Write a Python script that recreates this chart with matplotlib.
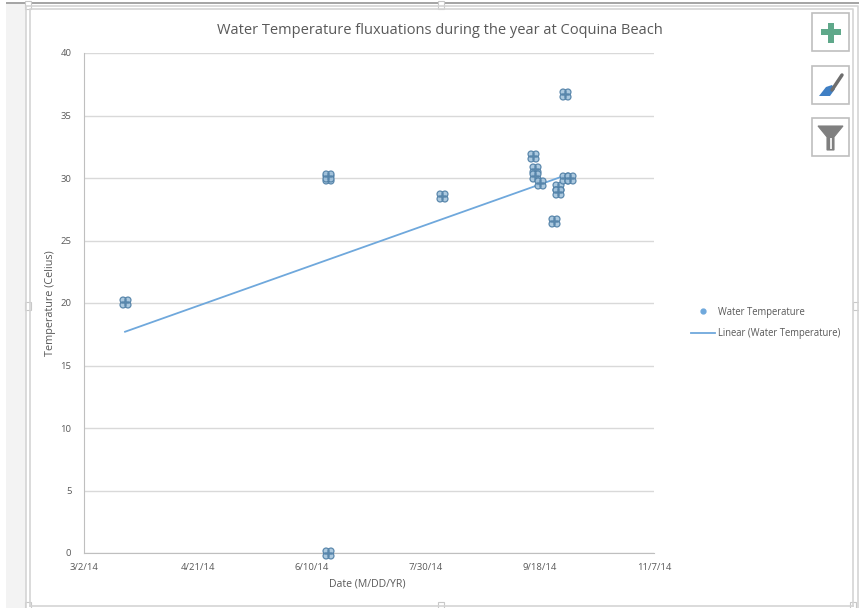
import matplotlib
matplotlib.use("Agg")
import matplotlib.pyplot as plt
import pandas as pd
from matplotlib.lines import Line2D
from matplotlib.patches import Circle, Polygon, Rectangle
from matplotlib.path import Path

# ---- data ----
dates = ["3/20/14", "6/17/14", "6/17/14", "6/17/14", "8/6/14", "9/15/14",
         "9/16/14", "9/16/14", "9/18/14", "9/24/14", "9/26/14", "9/26/14", "9/29/14",
         "9/29/14", "10/1/14"]
temps = [20.1, 30.0, 30.2, 0.0, 28.6, 31.8, 30.7, 30.2, 29.6, 26.6, 29.3, 28.9,
         36.7, 30.0, 30.0]
trend_dates = ["3/20/14", "9/29/14"]
trend_temps = [17.7, 30.2]
x_ticks = ["3/2/14", "4/21/14", "6/10/14", "7/30/14", "9/18/14", "11/7/14"]
y_ticks = [0, 5, 10, 15, 20, 25, 30, 35, 40]

TEXT = "#595959"
BLUE = "#6fa8dc"
FRAME = "#d4d4d4"

plt.rcParams["font.family"] = ["Open Sans", "DejaVu Sans"]

fig = plt.figure(figsize=(8.59, 6.08), dpi=100, facecolor="white")

# window chrome, in pixel coordinates
chrome = fig.add_axes([0, 0, 1, 1], zorder=0)
chrome.set_xlim(0, 859)
chrome.set_ylim(608, 0)
chrome.axis("off")
chrome.add_patch(Rectangle((6, 3), 20, 605, color="#f3f3f3", lw=0))
chrome.add_patch(Rectangle((6, 2), 853, 2, color="#a6a6a6", lw=0))
chrome.plot([26, 26, 853, 858, 858], [608, 6, 6, 6, 608], color=FRAME, lw=1.2)
chrome.plot([30, 30, 853, 853], [606, 9, 9, 606], color=FRAME, lw=1.2)
chrome.plot([30, 853], [606, 606], color=FRAME, lw=1.2)
for hx, hy in [(28, 5), (441, 5), (28, 306), (856, 306), (28, 606), (441, 606), (853, 606)]:
    chrome.add_patch(Rectangle((hx - 3, hy - 4), 6, 8, fc="white", ec="#c8c8c8", lw=0.8))

# buttons on the right
for top in [13, 66, 118]:
    chrome.add_patch(Rectangle((812, top), 37, 38, fc="white", ec="#bfbfbf", lw=1.2))
chrome.add_patch(Rectangle((821, 29), 20, 6, color="#5fa88a", lw=0))
chrome.add_patch(Rectangle((828, 23), 6, 20, color="#5fa88a", lw=0))
chrome.plot([832, 842], [90, 75], color="#6e6e6e", lw=2.5, solid_capstyle="round")
chrome.add_patch(Polygon([[819, 96], [826, 87], [832, 85], [835, 89], [830, 96]], color="#3f7fc4", lw=0))
chrome.add_patch(Polygon([[818, 126], [843, 126], [834, 137], [834, 150], [827, 150], [827, 137]],
                         fc="#7f7f7f", ec="#7f7f7f", lw=0.8))
chrome.add_patch(Polygon([[829.5, 138], [831.5, 138], [831.5, 149], [829.5, 149]], color="#e8e8e8", lw=0))

# main plot
ax = fig.add_axes([84 / 859, 1 - 553 / 608, 570 / 859, 500 / 608], zorder=1)
ax.patch.set_alpha(0)

x = pd.to_datetime(dates, format="%m/%d/%y")
tx = pd.to_datetime(trend_dates, format="%m/%d/%y")
xt = pd.to_datetime(x_ticks, format="%m/%d/%y")

# the marker looks like four small circles packed together
offs = [(-0.8, -0.8), (0.8, -0.8), (-0.8, 0.8), (0.8, 0.8)]
clover = Path.make_compound_path(*[
    Path.circle(center=o, radius=1.0) for o in offs
])

ax.plot(tx, trend_temps, color=BLUE, lw=1.3, zorder=3)
ax.scatter(x, temps, marker=clover, s=62, facecolor="#a3c3dc", edgecolor="#4f7fa6",
           linewidth=0.9, alpha=0.9, zorder=4, clip_on=False)

ax.set_xlim(xt[0], xt[-1])
ax.set_ylim(0, 40)
ax.set_xticks(xt)
ax.set_xticklabels(x_ticks)
ax.set_yticks(y_ticks)
ax.grid(axis="y", color="#d9d9d9", lw=1)
ax.set_axisbelow(True)
ax.spines["top"].set_visible(False)
ax.spines["right"].set_visible(False)
ax.spines["left"].set_color("#bfbfbf")
ax.spines["bottom"].set_color("#bfbfbf")
ax.tick_params(axis="both", length=0, labelsize=6.8, labelcolor=TEXT)
ax.tick_params(axis="x", pad=7)
ax.tick_params(axis="y", pad=9)

fig.text(440 / 859, 1 - 30 / 608, "Water Temperature fluxuations during the year at Coquina Beach",
         ha="center", va="center", fontsize=10.5, color=TEXT)
fig.text(367 / 859, 1 - 584 / 608, "Date (M/DD/YR)", ha="center", va="center",
         fontsize=7.6, color=TEXT)
fig.text(51 / 859, 1 - 303 / 608, "Temperature (Celius)", ha="center", va="center",
         rotation=90, fontsize=7.8, color=TEXT)

handles = [
    Line2D([], [], ls="none", marker="o", ms=3.5, color=BLUE),
    Line2D([], [], color=BLUE, lw=1.3),
]
fig.legend(handles, ["Water Temperature", "Linear (Water Temperature)"],
           loc="center left", bbox_to_anchor=(691 / 859, 1 - 323 / 608),
           frameon=False, fontsize=6.85, labelcolor=TEXT, handlelength=2.5,
           handletextpad=0.3, labelspacing=1.1, borderpad=0, borderaxespad=0)

fig.savefig("out.png", dpi=100)
